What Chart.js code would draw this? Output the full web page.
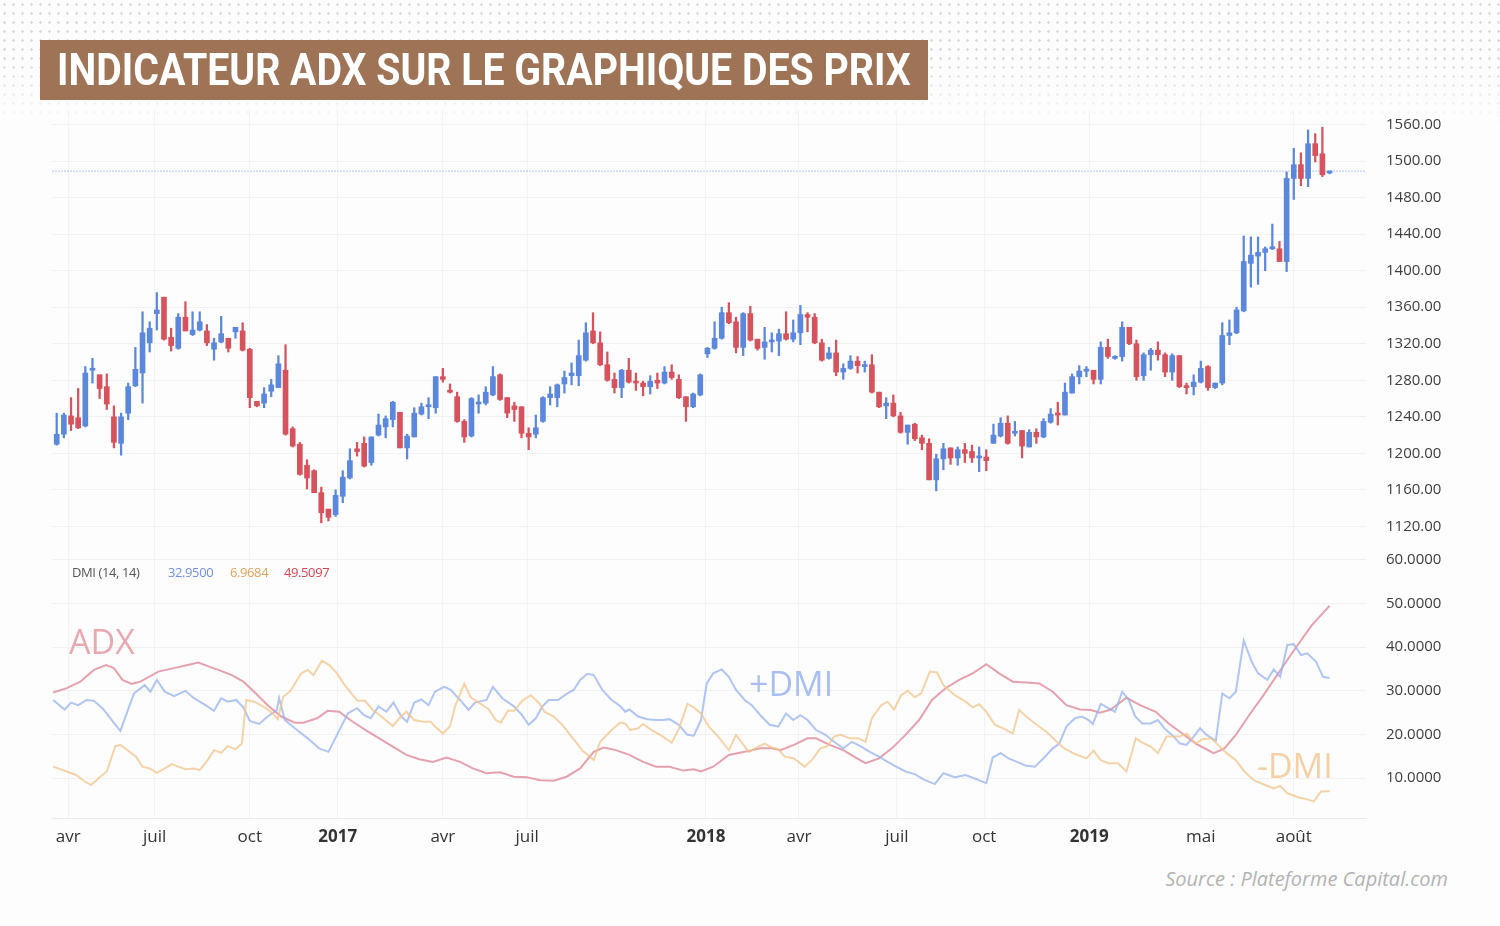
<!DOCTYPE html>
<html lang="fr">
<head>
<meta charset="utf-8">
<title>Indicateur ADX sur le graphique des prix</title>
<script src="https://cdn.jsdelivr.net/npm/chart.js@4.4.1/dist/chart.umd.min.js"></script>
<style>
  body { margin: 0; width: 1500px; height: 926px; background: #fdfdfd; position: relative; overflow: hidden; font-family: "Open Sans", Roboto, sans-serif; }
  .dots { position: absolute; left: 0; top: 0; width: 1500px; height: 125px;
    background-image: radial-gradient(circle, #dadada 1px, transparent 1.5px); background-size: 9px 9px;
    -webkit-mask-image: linear-gradient(to bottom, #000 0, #000 45%, transparent 100%);
    mask-image: linear-gradient(to bottom, #000 0, #000 45%, transparent 100%); }
  .title { position: absolute; left: 40px; top: 40px; width: 888px; height: 60px; background: #9e7356; }
  .title span { position: absolute; left: 17px; top: 5px; line-height: 50px; color: #fff; font-family: Roboto, sans-serif;
    font-weight: 700; font-size: 44px; white-space: nowrap; transform-origin: left center; }
  canvas { position: absolute; left: 0; }
  #priceChart { top: 105px; }
  #dmiChart { top: 545px; }
  .lbl { position: absolute; white-space: nowrap; }
  .legend { top: 563px; font-size: 13px; line-height: 18px; letter-spacing: -0.4px; }
  .big { font-family: "Open Sans", sans-serif; font-size: 34px; line-height: 34px; }
  .source { right: 52px; top: 865px; font-size: 20px; font-style: italic; color: #b3b3b3; }
</style>
</head>
<body>
<div class="dots"></div>
<div class="title"><span id="titleText">INDICATEUR ADX SUR LE GRAPHIQUE DES PRIX</span></div>

<canvas id="priceChart" width="1500" height="445"></canvas>
<canvas id="dmiChart" width="1500" height="310"></canvas>

<div class="lbl legend" style="left:72px;color:#555">DMI (14, 14)</div>
<div class="lbl legend" style="left:168px;color:#6f8fe0">32.9500</div>
<div class="lbl legend" style="left:230px;color:#e0a45c">6.9684</div>
<div class="lbl legend" style="left:284px;color:#d9434f">49.5097</div>
<div class="lbl big" style="left:69px;top:624px;color:#e9a9b2">ADX</div>
<div class="lbl big" style="left:749px;top:666px;color:#a9bff2">+DMI</div>
<div class="lbl big" style="left:1257px;top:748px;color:#f3d0a6">-DMI</div>
<div class="lbl source">Source : Plateforme Capital.com</div>

<script>
// weekly candles (prix)
const opens = [1210,1221,1241,1239,1230,1291,1286,1273,1240,1211,1244,1274,1288,1321,1353,1371,1327,1315,1349,1330,
  1335,1334,1314,1322,1326,1333,1334,1314,1257,1255,1268,1272,1291,1227,1210,1187,1181,1157,1139,1133,
  1153,1173,1205,1211,1190,1220,1229,1237,1245,1206,1218,1243,1251,1250,1284,1268,1262,1235,1219,1254,
  1255,1264,1286,1261,1252,1251,1222,1221,1235,1261,1261,1276,1285,1285,1302,1334,1321,1297,1281,1272,
  1291,1279,1277,1273,1280,1277,1289,1281,1262,1251,1264,1309,1315,1326,1354,1344,1316,1353,1325,1316,
  1322,1323,1331,1325,1332,1352,1349,1321,1304,1310,1289,1293,1301,1295,1297,1267,1252,1255,1241,1223,
  1232,1217,1211,1171,1194,1206,1195,1204,1202,1195,1196,1211,1219,1233,1222,1225,1207,1223,1218,1234,
  1244,1242,1266,1284,1290,1291,1281,1316,1304,1306,1338,1320,1285,1308,1313,1308,1289,1307,1274,1273,
  1278,1295,1272,1277,1329,1332,1356,1408,1416,1420,1424,1424,1410,1501,1516,1501,1539,1528,1507];
const closes = [1221,1242,1232,1228,1288,1293,1271,1254,1212,1240,1273,1292,1332,1337,1357,1325,1318,1349,1334,1335,
  1344,1321,1321,1331,1315,1338,1313,1261,1252,1265,1275,1298,1221,1208,1177,1173,1157,1135,1130,1154,
  1174,1192,1202,1186,1218,1231,1238,1256,1206,1219,1244,1251,1253,1284,1281,1267,1235,1218,1260,1256,
  1267,1284,1259,1244,1248,1222,1218,1228,1261,1265,1275,1283,1288,1307,1332,1321,1297,1280,1272,1291,
  1278,1277,1273,1279,1277,1289,1283,1261,1251,1265,1286,1315,1326,1354,1343,1316,1353,1324,1315,1322,
  1324,1331,1325,1332,1352,1349,1321,1302,1310,1289,1293,1301,1296,1297,1267,1251,1255,1241,1223,1231,
  1216,1211,1171,1194,1205,1195,1204,1200,1195,1196,1192,1220,1233,1211,1223,1208,1223,1218,1235,1243,
  1242,1267,1284,1290,1292,1281,1316,1306,1306,1338,1320,1284,1308,1313,1308,1289,1307,1273,1272,1278,
  1293,1272,1277,1329,1332,1357,1410,1417,1420,1424,1425,1410,1501,1516,1501,1539,1526,1505,1509];
const highs = [1244,1244,1261,1271,1295,1304,1286,1287,1252,1244,1277,1316,1355,1344,1376,1371,1337,1353,1366,1355,
  1355,1341,1326,1350,1326,1338,1343,1315,1257,1272,1281,1307,1319,1229,1212,1193,1182,1163,1139,1160,
  1181,1205,1212,1218,1218,1243,1241,1257,1245,1221,1250,1255,1261,1284,1293,1276,1267,1237,1261,1264,
  1273,1295,1287,1261,1256,1251,1228,1242,1262,1273,1276,1290,1299,1324,1343,1354,1333,1311,1288,1292,
  1304,1288,1279,1285,1288,1295,1297,1286,1262,1266,1287,1316,1344,1360,1365,1349,1354,1361,1325,1338,
  1332,1336,1355,1346,1362,1354,1353,1325,1316,1324,1298,1307,1306,1301,1308,1267,1261,1264,1245,1231,
  1233,1220,1216,1199,1211,1206,1207,1211,1209,1207,1204,1232,1239,1241,1235,1225,1226,1227,1238,1249,
  1256,1277,1287,1296,1295,1291,1322,1325,1307,1344,1338,1324,1310,1315,1322,1310,1309,1307,1277,1286,
  1301,1296,1277,1343,1346,1360,1438,1437,1437,1426,1451,1432,1508,1534,1529,1554,1550,1557,1509];
const lows = [1209,1217,1225,1227,1229,1277,1260,1248,1206,1198,1237,1273,1255,1311,1335,1324,1312,1314,1334,1329,
  1334,1318,1302,1321,1311,1326,1312,1250,1251,1250,1262,1272,1220,1207,1176,1161,1157,1124,1126,1131,
  1146,1172,1197,1185,1187,1219,1217,1229,1206,1194,1218,1242,1238,1244,1278,1266,1234,1212,1218,1244,
  1253,1263,1258,1239,1235,1217,1204,1217,1234,1253,1251,1266,1275,1274,1301,1320,1296,1279,1266,1261,
  1277,1269,1263,1265,1271,1276,1281,1260,1235,1250,1263,1305,1314,1325,1342,1310,1307,1323,1313,1303,
  1311,1307,1324,1322,1319,1333,1320,1301,1303,1285,1281,1292,1288,1289,1266,1250,1238,1240,1222,1210,
  1214,1204,1171,1159,1182,1188,1187,1190,1190,1180,1181,1211,1218,1210,1219,1195,1207,1211,1217,1233,
  1231,1242,1266,1276,1284,1276,1276,1304,1303,1301,1319,1280,1280,1291,1302,1284,1280,1272,1265,1264,
  1277,1269,1271,1275,1319,1331,1355,1382,1385,1400,1423,1410,1399,1478,1493,1492,1519,1503,1506];

// DMI (14, 14) : [semaine, valeur]
const adx = [[-0.5,29.6],[1.4,30.6],[3.3,32.1],[5.2,34.8],[6.9,35.9],[8,35.2],[9.2,32.5],[10.5,31.6],[11.7,32.1],[14.2,34.4],
  [16.4,35.2],[18.3,35.9],[19.8,36.5],[21.4,35.5],[22.6,34.8],[24.5,33.6],[26.1,32.1],[27.6,29.8],[29.5,26.7],[31.4,24.1],
  [33.3,22.7],[34.5,22.7],[36.4,23.7],[37.9,25.4],[39.5,25.2],[41.4,22.9],[43.2,21],[45.1,19.1],[47,17.2],[48.9,15.3],
  [50.7,14.3],[52.6,13.7],[54.5,14.7],[56.4,13.7],[58.2,12.2],[60.1,11.1],[62,11.3],[63.9,10.3],[65.7,10.2],[67.6,9.5],
  [69.5,9.4],[71.3,10.3],[73.2,12.2],[75.1,16],[76.5,17],[78.2,16.4],[80.1,15.3],[82,13.7],[83.8,12.6],[85.7,12.6],
  [87.6,11.7],[89.1,12],[90.1,11.5],[91.8,12.6],[94,15.3],[96.2,16],[98.4,16.8],[100,16.8],[101.2,16.4],[103.1,17.6],
  [105,19.1],[106.2,19.1],[108.1,17.6],[110,16.4],[111.5,14.9],[113.1,13.4],[115,14.5],[116.8,16.8],[118.7,19.9],[120.6,23.3],
  [122.4,27.9],[124.3,30.6],[126.2,32.5],[128.1,34],[130,36.1],[131.8,34],[133.7,32.1],[135.6,31.9],[137.4,31.7],[139.3,29.8],
  [141.2,26.7],[143.1,25.7],[144.6,25.6],[145.9,25],[147.4,25.7],[149.6,28.4],[151.5,26.7],[153.7,25.2],[155.5,22.5],[157.4,20.2],
  [159.3,17.9],[161.8,15.7],[163.3,16.8],[164.9,19.9],[166.8,24.5],[168.6,28.6],[170.5,33.2],[172.4,37.8],[173.5,40.4],[175.5,45],
  [177,47.7],[178,49.5]];
const plusDmi = [[-0.5,27.9],[1.1,25.7],[2,27.3],[3,26.7],[4.2,27.9],[5.2,27.7],[6.4,26],[7.7,23.3],[8.9,20.8],[10.8,29.4],
  [12.3,31.3],[13.1,29.8],[14,32.5],[15.1,29.8],[16.4,28.8],[18,30],[19.2,28.3],[20.8,26.7],[22,25.4],[23,28.3],
  [23.9,27.5],[25.1,27.9],[26.1,26.2],[27,23.1],[28.3,22.4],[29.5,24.1],[30.8,25.6],[31.1,28.3],[31.9,23.3],[33.6,21],
  [35.1,19.1],[36.7,16.8],[38,16],[39.2,19.9],[40.7,24.8],[42,26],[43,24.4],[43.9,23.7],[45,26.4],[46.1,25.2],
  [47.1,27.3],[48.2,24.1],[49,22.9],[50,27.3],[51,28],[52,26.7],[52.9,29.8],[54.2,30.9],[55.1,30.2],[56.4,27.9],
  [57.6,25.6],[58.5,27.3],[60.1,27.9],[61,30.9],[62.3,28.3],[63.9,26.5],[65.1,24.4],[66,22.2],[67,23.7],[67.9,26.4],
  [68.8,27.9],[70.1,27.9],[71.3,29.3],[72.3,30.2],[73.2,32.5],[74.2,33.9],[75.1,33.6],[76.3,30.2],[77.6,27.9],[78.8,26.5],
  [79.5,25.2],[80.1,25.7],[81.3,24.1],[82.6,23.5],[83.8,23.3],[84.8,23.3],[85.7,23.5],[87,22.2],[88.2,19.9],[89.1,19.7],
  [90.1,23.3],[90.9,31.7],[91.8,34],[93,34.9],[94,33.2],[95,30.2],[96.2,27.9],[97.2,26.7],[98.4,24.4],[99.7,22.2],
  [100.9,21.8],[102,24.8],[103,23.3],[104,24.4],[105,23.3],[106.2,21],[107.5,19.9],[108.7,18.3],[110,16.8],[111.2,18.3],
  [112.4,17.3],[113.7,16],[115,14.9],[116.2,13.7],[117.4,12.6],[118.7,11.5],[120,10.9],[121.2,9.7],[122.8,8.6],[124,11.1],
  [125.6,10.2],[127.1,10.7],[128.7,9.7],[130,8.8],[130.9,14.7],[132,15.7],[133.1,14.5],[134.3,13.7],[135.6,12.8],[136.8,12.6],
  [138.1,14.7],[139.3,16.8],[140.2,17.9],[141.2,21.8],[142.4,23.7],[143.4,24.1],[144.3,23.3],[144.9,22.4],[146,27],[147.1,26],
  [148,25.2],[149,29.8],[149.9,28],[150.8,24.2],[151.8,22.5],[153,22.5],[154,23.3],[154.9,21.4],[156.2,19.5],[157.1,17.9],
  [158,17.6],[159,19.5],[159.9,21.4],[160.8,19.9],[162.1,18.6],[163,29.4],[164,28.3],[164.9,29.8],[166,41.5],[167.1,36.7],
  [168,34],[169.3,32.5],[170.2,34.9],[171.1,33.2],[172.1,40.5],[173,40.7],[174,38.2],[174.9,38.6],[176.1,36.7],[177.1,33.2],
  [178,32.95]];
const minusDmi = [[-0.5,12.6],[1.4,11.5],[2.7,10.7],[3.9,9.2],[4.8,8.4],[5.8,9.9],[7,11.5],[8.2,17.3],[8.9,17.6],[10.2,16],
  [11.1,14.9],[12,12.6],[13,12.2],[14,11.2],[15.1,12.2],[16.1,13.2],[17,12.6],[18,12],[19.2,12.2],[20,11.8],
  [21.1,14.1],[22,16.4],[23,15.8],[23.9,17.3],[25,16.6],[25.9,17.9],[26.5,27.9],[27.6,27.5],[28.9,26.4],[30.1,25],
  [30.9,23.5],[31.7,28.7],[32.6,29.8],[34.2,34],[35.1,34.8],[35.9,33.6],[37.1,36.9],[38.1,35.9],[39.2,34],[40.1,31.7],
  [41.4,29],[42.1,27.7],[43.1,27.7],[44.2,25.6],[45.4,24.1],[47,21.9],[47.9,23.7],[48.9,25.2],[50,23.3],[51.2,22.9],
  [52.3,22.9],[52.9,21.8],[54,20.2],[55,21.9],[55.7,26.4],[57,31.6],[57.9,28.5],[59.2,27.1],[60.4,25.8],[61.4,23.3],
  [62.1,22.7],[63.1,25.4],[64,25.4],[65.1,27.7],[66.3,29],[67.5,27.1],[68.2,25.2],[69.5,24.1],[70.7,22.2],[71.8,19.9],
  [72.6,18.3],[73.5,16.3],[75.1,14.1],[76,18.3],[77.6,21],[78.8,22.7],[79.5,22.5],[80.2,21],[81.3,21.4],[82,22.4],
  [83.2,21],[84.8,19.5],[86,18.1],[87,21.2],[88.2,27],[89.1,26.2],[90.1,24.8],[91.2,21.8],[92.5,19.5],[94,16.4],
  [95,19.9],[95.9,17.9],[96.8,16],[98.1,17.2],[99,17.9],[100,17],[100.9,16.6],[101.8,14.9],[103.1,14.5],[104.6,12.6],
  [105.6,14.1],[106.8,16.8],[107.8,17.3],[108.7,19.5],[109.6,19.9],[110.9,19.1],[112.1,19.1],[113.1,18.3],[114,23.7],[115.3,26.7],
  [116.2,27.5],[117.1,25.7],[118.1,29],[119,30],[120,28.5],[120.9,29.4],[122.1,34.4],[123.1,34.2],[124,31.3],[125.6,29],
  [127.1,27.5],[128.1,26.2],[129,26.9],[130,25.2],[131.2,22.2],[132.4,21.4],[133.7,20.2],[134.6,25.6],[135.6,24.1],[136.8,22.5],
  [138.4,20.6],[139.6,18.7],[140.9,16.8],[142.4,15.5],[144,14.5],[145,16.3],[146,14.1],[147.1,13.4],[148.4,13.4],[149.6,11.5],
  [150.9,19.1],[151.8,18.1],[153,17.2],[154,15.7],[155.2,19.5],[156.2,19.5],[157.1,19.5],[158,20.2],[159.3,17.9],[160.2,18.9],
  [161.5,19.1],[162.4,17.6],[163.6,15.7],[164.9,14.1],[166.1,11.5],[167.4,9.5],[169,8.4],[170.2,7.6],[171.1,8.2],[172.1,6.5],
  [173.6,5.6],[174.9,5.1],[175.8,4.6],[176.8,6.9],[178,6.97]];

// axes
const xTickWeeks = [1.6, 13.7, 27, 39.3, 54, 65.8, 90.8, 103.8, 117.5, 129.7, 144.4, 160, 173];
const xTickLabels = ["avr", "juil", "oct", "2017", "avr", "juil", "2018", "avr", "juil", "oct", "2019", "mai", "août"];
const yearLabels = ["2017", "2018", "2019"];
const priceTickValues = [1120, 1160, 1200, 1240, 1280, 1320, 1360, 1400, 1440, 1480, 1520, 1560];
const priceTickLabels = ["1120.00", "1160.00", "1200.00", "1240.00", "1280.00", "1320.00", "1360.00", "1400.00", "1440.00", "1480.00", "1500.00", "1560.00"];
const dmiTickValues = [10, 20, 30, 40, 50, 60];
const dmiTickLabels = ["10.0000", "20.0000", "30.0000", "40.0000", "50.0000", "60.0000"];

// title fit
const titleText = document.getElementById("titleText");
titleText.style.transform = "scaleX(" + (854 / titleText.offsetWidth) + ")";

const xMin = -0.66, xMax = 183.1;
const upColor = "#5b87dc", downColor = "#d6525c";
const candleColors = opens.map((o, i) => (closes[i] >= o ? upColor : downColor));
const lastClose = closes[closes.length - 1];
const tickFont = { family: "'Open Sans', sans-serif", size: 15 };

function fixTicks(values) {
  return axis => { axis.ticks = values.map(v => ({ value: v })); };
}

// right axis: fixed width, no extra top/bottom room for labels
function fitRightAxis(s) {
  s.width = 134;
  s.paddingTop = 0;
  s.paddingBottom = 0;
}

// price chart
new Chart(document.getElementById("priceChart"), {
  type: "bar",
  data: {
    datasets: [
      {
        type: "line",
        data: [{ x: xMin, y: lastClose }, { x: xMax, y: lastClose }],
        borderColor: "rgba(110,150,225,0.45)",
        borderWidth: 1.2,
        borderDash: [2, 1],
        pointRadius: 0,
        order: 3,
      },
      {
        data: opens.map((o, i) => ({ x: i, y: [lows[i], highs[i]] })),
        backgroundColor: candleColors,
        barThickness: 1.6,
        grouped: false,
        order: 2,
      },
      {
        data: opens.map((o, i) => ({ x: i, y: [o, closes[i]] })),
        backgroundColor: candleColors,
        barThickness: 5,
        minBarLength: 2,
        grouped: false,
        order: 1,
      },
    ],
  },
  options: {
    responsive: false,
    animation: false,
    layout: { padding: { left: 52, top: 5, bottom: 2, right: 0 } },
    plugins: { legend: { display: false }, tooltip: { enabled: false } },
    scales: {
      x: {
        type: "linear",
        min: xMin,
        max: xMax,
        offset: false,
        afterBuildTicks: fixTicks(xTickWeeks),
        ticks: { display: false },
        grid: { color: "#f3f3f3", drawTicks: false, offset: false },
        border: { display: false },
        afterFit: s => { s.height = 0; },
      },
      y: {
        position: "right",
        min: 1096.4,
        max: 1575.9,
        afterBuildTicks: fixTicks(priceTickValues),
        ticks: { padding: 20, color: "#3d3d3d", font: tickFont, callback: (v, i) => priceTickLabels[i] },
        grid: { color: "#f1f1f1", drawTicks: false },
        border: { display: false },
        afterFit: fitRightAxis,
      },
    },
  },
});

// DMI chart
const toPoints = arr => arr.map(p => ({ x: p[0], y: p[1] }));

new Chart(document.getElementById("dmiChart"), {
  type: "line",
  data: {
    datasets: [
      { label: "-DMI", data: toPoints(minusDmi), borderColor: "rgba(240,196,140,0.75)", borderWidth: 2, pointRadius: 0 },
      { label: "+DMI", data: toPoints(plusDmi), borderColor: "rgba(150,178,238,0.75)", borderWidth: 2, pointRadius: 0 },
      { label: "ADX", data: toPoints(adx), borderColor: "rgba(222,135,150,0.78)", borderWidth: 2, pointRadius: 0 },
    ],
  },
  options: {
    responsive: false,
    animation: false,
    layout: { padding: { left: 52, top: 3, bottom: 0, right: 0 } },
    plugins: { legend: { display: false }, tooltip: { enabled: false } },
    scales: {
      x: {
        type: "linear",
        min: xMin,
        max: xMax,
        afterBuildTicks: fixTicks(xTickWeeks),
        ticks: {
          autoSkip: false,
          maxRotation: 0,
          padding: 9,
          color: "#333",
          font: ctx => ({
            family: "'Open Sans', sans-serif",
            size: 17,
            weight: yearLabels.includes(xTickLabels[ctx.index]) ? "bold" : "normal",
          }),
          callback: (v, i) => xTickLabels[i],
        },
        grid: { color: "#f3f3f3", drawTicks: false },
        border: { color: "#ececec" },
        afterFit: s => { s.height = 37; },
      },
      y: {
        position: "right",
        min: 0.83,
        max: 62.75,
        afterBuildTicks: fixTicks(dmiTickValues),
        ticks: { padding: 20, color: "#3d3d3d", font: tickFont, callback: (v, i) => dmiTickLabels[i] },
        grid: { color: "#f1f1f1", drawTicks: false },
        border: { display: false },
        afterFit: fitRightAxis,
      },
    },
  },
});
</script>
</body>
</html>
